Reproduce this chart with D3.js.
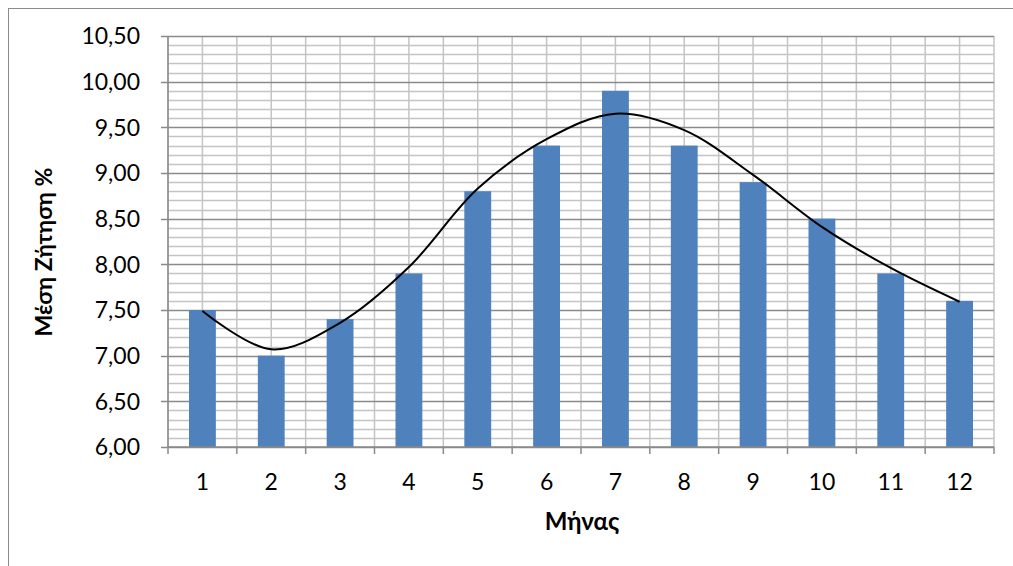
<!DOCTYPE html>
<html>
<head>
<meta charset="utf-8">
<script src="https://cdn.jsdelivr.net/npm/d3@7"></script>
<style>
    body { margin: 0; background: #fff; }
    text { font-family: Lato, "Open Sans", sans-serif; fill: #000; }
</style>
</head>
<body>
<svg id="chart" width="1013" height="566"></svg>
<script>
// month numbers and mean demand (bars)
const months = [1, 2, 3, 4, 5, 6, 7, 8, 9, 10, 11, 12];
const demand = [7.5, 7.0, 7.4, 7.9, 8.8, 9.3, 9.9, 9.3, 8.9, 8.5, 7.9, 7.6];
// smoothed line at each month
const trend = [7.49, 7.07, 7.36, 7.97, 8.83, 9.37, 9.65, 9.47, 8.98, 8.41, 7.96, 7.59];
const yTicks = [6, 6.5, 7, 7.5, 8, 8.5, 9, 9.5, 10, 10.5];

const svg = d3.select("#chart");
const margin = { left: 168, right: 19, top: 36, bottom: 119 };
const width = 1013 - margin.left - margin.right,
      height = 566 - margin.top - margin.bottom;

// outer chart frame
svg.append("rect")
   .attr("x", 8.5).attr("y", 8.5)
   .attr("width", 1020).attr("height", 600)
   .attr("fill", "none")
   .attr("stroke", "#8c8c8c");

const g = svg.append("g")
             .attr("transform", "translate(" + margin.left + "," + margin.top + ")");

const x = d3.scaleBand().domain(months).range([0, width]).paddingInner(0.61).paddingOuter(0.305);
const xc = d3.scaleBand().domain(months).range([0, width]);
const y = d3.scaleLinear().domain([6, 10.5]).range([height, 0]);

// minor horizontal grid (every 0.1)
const minor = d3.range(61, 105).map(v => v / 10).filter(v => Math.round(v * 10) % 5 !== 0);
g.append("g").selectAll("line").data(minor).enter().append("line")
 .attr("x1", 0).attr("x2", width)
 .attr("y1", d => Math.round(y(d)) + 0.5).attr("y2", d => Math.round(y(d)) + 0.5)
 .attr("stroke", "#c4c4c4").attr("stroke-width", 1.5);

// vertical grid at category edges and centers
const vLines = d3.range(0, 25).map(i => i * xc.bandwidth() / 2);
g.append("g").selectAll("line").data(vLines).enter().append("line")
 .attr("x1", d => d).attr("x2", d => d)
 .attr("y1", 0).attr("y2", height)
 .attr("stroke", "#c4c4c4").attr("stroke-width", 1.5);

// major horizontal grid
g.append("g").selectAll("line").data(yTicks).enter().append("line")
 .attr("x1", -7).attr("x2", width)
 .attr("y1", d => Math.round(y(d)) + 0.5).attr("y2", d => Math.round(y(d)) + 0.5)
 .attr("stroke", "#8a8a8a").attr("stroke-width", 1.5);

// bars
g.append("g").selectAll("rect").data(demand).enter().append("rect")
 .attr("x", (d, i) => x(months[i]))
 .attr("width", x.bandwidth())
 .attr("y", d => y(d))
 .attr("height", d => height - y(d))
 .attr("fill", "#4f81bd");

// axes lines
g.append("line").attr("x1", 0).attr("x2", 0).attr("y1", 0).attr("y2", height)
 .attr("stroke", "#8a8a8a").attr("stroke-width", 1.5);
g.append("line").attr("x1", 0).attr("x2", width).attr("y1", height).attr("y2", height)
 .attr("stroke", "#8a8a8a").attr("stroke-width", 1.5);

// x tick marks at category edges
g.append("g").selectAll("line").data(d3.range(0, 13)).enter().append("line")
 .attr("x1", d => d * xc.bandwidth()).attr("x2", d => d * xc.bandwidth())
 .attr("y1", height).attr("y2", height + 7)
 .attr("stroke", "#8a8a8a").attr("stroke-width", 1.5);

// smoothed line
const line = d3.line()
               .x((d, i) => xc(months[i]) + xc.bandwidth() / 2)
               .y(d => y(d))
               .curve(d3.curveCatmullRom.alpha(0.5));
g.append("path").datum(trend)
 .attr("d", line)
 .attr("fill", "none")
 .attr("stroke", "#000")
 .attr("stroke-width", 2);

// tick labels
const fmt = d => d.toFixed(2).replace(".", ",");
g.append("g").selectAll("text").data(yTicks).enter().append("text")
 .attr("x", -28).attr("y", d => y(d))
 .attr("dy", "0.36em")
 .attr("text-anchor", "end")
 .style("font-size", "23px")
 .text(fmt);

g.append("g").selectAll("text").data(months).enter().append("text")
 .attr("x", d => xc(d) + xc.bandwidth() / 2)
 .attr("y", height + 43)
 .attr("text-anchor", "middle")
 .style("font-size", "23px")
 .text(d => d);

// axis titles
svg.append("text")
   .attr("transform", "translate(52,252) rotate(-90)")
   .attr("text-anchor", "middle")
   .style("font-size", "23px")
   .style("font-weight", "bold")
   .text("Μέση Ζήτηση %");

svg.append("text")
   .attr("x", 582).attr("y", 530)
   .attr("text-anchor", "middle")
   .style("font-size", "24px")
   .style("font-weight", "bold")
   .text("Μήνας");
</script>
</body>
</html>
